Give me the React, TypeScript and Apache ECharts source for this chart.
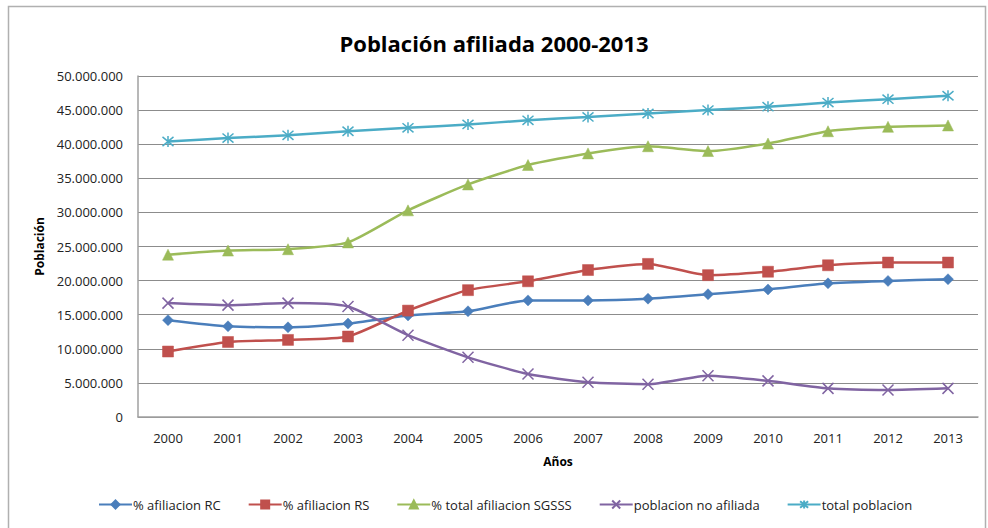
import React, { useEffect, useRef } from "react";
import * as echarts from "echarts";

const years = ["2000", "2001", "2002", "2003", "2004", "2005", "2006", "2007", "2008", "2009", "2010", "2011", "2012", "2013"];

const afiliacionRC = [14200000, 13300000, 13150000, 13700000, 14900000, 15500000, 17100000, 17100000, 17350000, 18000000, 18700000, 19600000, 19950000, 20200000];
const afiliacionRS = [9600000, 11000000, 11300000, 11800000, 15600000, 18600000, 19900000, 21550000, 22450000, 20800000, 21300000, 22250000, 22650000, 22650000];
const totalSGSSS = [23800000, 24400000, 24600000, 25600000, 30300000, 34100000, 36950000, 38650000, 39700000, 39000000, 40100000, 41900000, 42550000, 42750000];
const noAfiliada = [16700000, 16400000, 16700000, 16200000, 12000000, 8750000, 6300000, 5100000, 4800000, 6050000, 5300000, 4200000, 3950000, 4200000];
const totalPoblacion = [40400000, 40900000, 41300000, 41900000, 42400000, 42900000, 43500000, 44000000, 44500000, 45000000, 45500000, 46100000, 46600000, 47100000];

const seriesNames = ["% afiliacion RC", "% afiliacion RS", "% total afiliacion SGSSS", "poblacion no afiliada", "total poblacion"];
const seriesColors = ["#4a7ebb", "#c0504d", "#9bbb59", "#8064a2", "#4bacc6"];

const FONT = "'Open Sans', sans-serif";

const fmt = (v: number) => String(Math.round(v)).replace(/\B(?=(\d{3})+(?!\d))/g, ".");

export default function App() {
  const ref = useRef<HTMLDivElement>(null);

  useEffect(() => {
    if (!ref.current) return;
    const chart = echarts.init(ref.current, undefined, { renderer: "svg" });

    const xMark = "path://M0,0L10,10M10,0L0,10";
    const starMark = "path://M0,0L10,10M10,0L0,10M5,-1L5,11";

    const mk = (i: number, data: number[], symbol: string, size: number, hollow = false) => ({
      name: seriesNames[i],
      type: "line",
      data,
      smooth: 0.2,
      symbol,
      symbolSize: size,
      showSymbol: true,
      lineStyle: { color: seriesColors[i], width: 2.5 },
      itemStyle: hollow
        ? { color: "transparent", borderColor: seriesColors[i], borderWidth: 1.5 }
        : { color: seriesColors[i], borderColor: seriesColors[i], borderWidth: 0.5 },
      emphasis: { disabled: true },
    });

    chart.setOption({
      animation: false,
      backgroundColor: "#ffffff",
      color: seriesColors,
      title: {
        text: "Población afiliada 2000-2013",
        left: "center",
        top: 27,
        textStyle: { fontFamily: FONT, fontSize: 22, fontWeight: "bold", color: "#000" },
      },
      graphic: [
        {
          type: "rect",
          shape: { x: 8.5, y: 6.5, width: 977, height: 540 },
          style: { fill: "none", stroke: "#b0b0b0", lineWidth: 1.5 },
          silent: true,
        },
      ],
      legend: {
        bottom: 12,
        left: 93,
        itemWidth: 33,
        itemHeight: 10,
        itemGap: 27,
        textStyle: { fontFamily: FONT, fontSize: 13, color: "#222", padding: [0, 0, 0, -4] },
        data: seriesNames,
      },
      grid: { left: 138, right: 10, top: 76, bottom: 111, containLabel: false },
      xAxis: {
        type: "category",
        data: years,
        boundaryGap: true,
        name: "Años",
        nameLocation: "middle",
        nameGap: 38,
        nameTextStyle: { fontFamily: FONT, fontSize: 12, fontWeight: "bold", color: "#000" },
        axisLine: { lineStyle: { color: "#a0a0a0", width: 1.5 } },
        axisTick: { show: false },
        axisLabel: { fontFamily: FONT, fontSize: 13, color: "#222", margin: 14 },
      },
      yAxis: {
        type: "value",
        min: 0,
        max: 50000000,
        interval: 5000000,
        name: "Población",
        nameLocation: "middle",
        nameGap: 92,
        nameTextStyle: { fontFamily: FONT, fontSize: 12, fontWeight: "bold", color: "#000" },
        axisLine: { show: true, lineStyle: { color: "#a0a0a0", width: 1.5 } },
        axisTick: { show: false },
        splitLine: { lineStyle: { color: "#8c8c8c", width: 1 } },
        axisLabel: { fontFamily: FONT, fontSize: 13, color: "#222", margin: 15, formatter: fmt },
      },
      series: [
        mk(0, afiliacionRC, "diamond", 11),
        mk(1, afiliacionRS, "rect", 11),
        mk(2, totalSGSSS, "triangle", 11),
        mk(3, noAfiliada, xMark, 11, true),
        mk(4, totalPoblacion, starMark, 11, true),
      ],
    });

    return () => chart.dispose();
  }, []);

  return (
    <div
      ref={ref}
      style={{ position: "fixed", left: 0, top: 0, width: 988, height: 528 }}
    />
  );
}
